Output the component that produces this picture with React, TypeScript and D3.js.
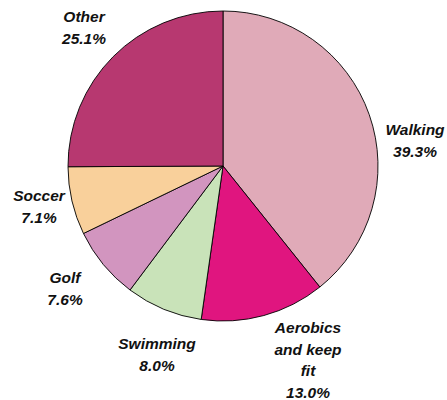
import React from "react";
import * as d3 from "d3";

const categories = ["Walking", "Aerobics and keep fit", "Swimming", "Golf", "Soccer", "Other"];
const values = [39.3, 13.0, 8.0, 7.6, 7.1, 25.1];
const labelLines = [
  ["Walking", "39.3%"],
  ["Aerobics", "and keep", "fit", "13.0%"],
  ["Swimming", "8.0%"],
  ["Golf", "7.6%"],
  ["Soccer", "7.1%"],
  ["Other", "25.1%"],
];
const colors = ["#e0aab8", "#e0157f", "#c9e3b9", "#d295bf", "#f9d09b", "#b73870"];
// label block centers (first line middle), relative to pie center
const labelOffsets: [number, number][] = [
  [192, -36],
  [85, 162],
  [-66, 178],
  [-158, 112],
  [-184, 30],
  [-139, -149],
];

const W = 447;
const H = 400;
const cx = 223;
const cy = 166;
const R = 155;
const lineH = 21.5;

export default function App() {
  const pie = d3.pie<number>().value((d) => d).sort(null);
  const arcs = pie(values);
  const arc = d3.arc<d3.PieArcDatum<number>>().innerRadius(0).outerRadius(R);
  return (
    <svg width={W} height={H} style={{ position: "absolute", left: 0, top: 0 }}>
      <rect width={W} height={H} fill="#fff" />
      <g transform={`translate(${cx},${cy})`}>
        {arcs.map((a, i) => (
          <path key={categories[i]} d={arc(a) || ""} fill={colors[i]} stroke="#000" strokeWidth={0.9} strokeLinejoin="round" />
        ))}
        {labelLines.map((lines, i) => (
          <text
            key={categories[i]}
            x={labelOffsets[i][0]}
            y={labelOffsets[i][1]}
            textAnchor="middle"
            fontFamily="Liberation Sans, Arial, sans-serif"
            fontWeight="bold"
            fontStyle="italic"
            fontSize={15.5}
            fill="#111"
          >
            {lines.map((l, j) => (
              <tspan key={j} x={labelOffsets[i][0]} dy={j === 0 ? "0.35em" : lineH}>
                {l}
              </tspan>
            ))}
          </text>
        ))}
      </g>
    </svg>
  );
}
